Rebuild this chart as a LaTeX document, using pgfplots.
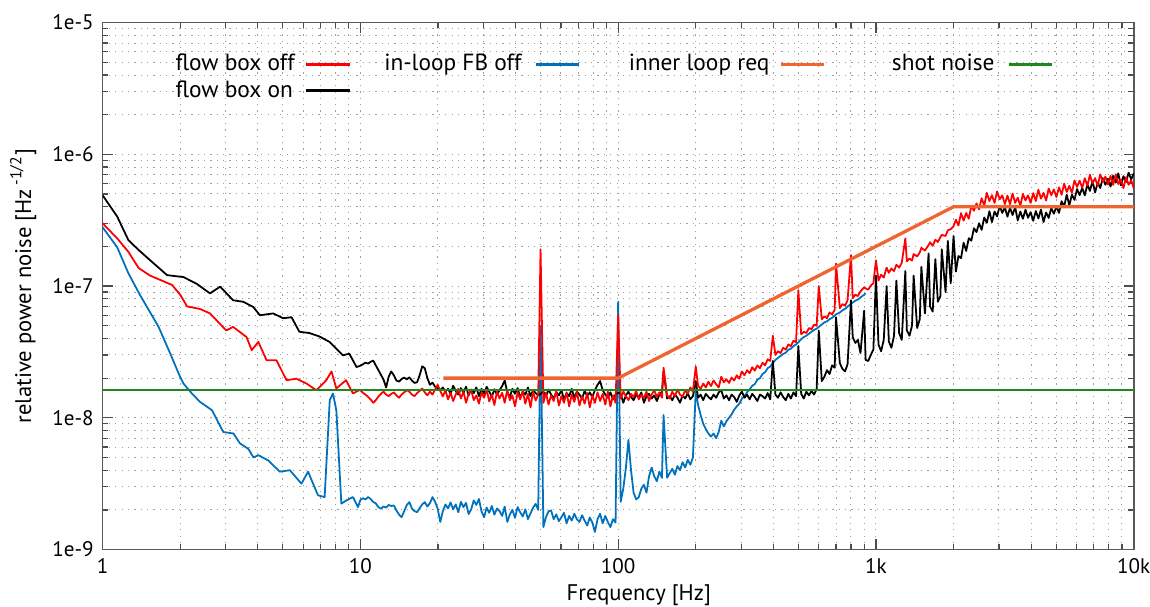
\documentclass[border=0pt]{standalone}
\usepackage{fontspec}
\setmainfont{PT Sans}
\usepackage{pgfplots}
\usepackage{pgfplotstable}
\pgfplotsset{compat=1.18}
\definecolor{cred}{RGB}{255,0,0}
\definecolor{cblue}{RGB}{0,114,189}
\definecolor{corange}{RGB}{240,100,50}
\definecolor{cgreen}{RGB}{30,135,30}

\pgfplotstableread{
f r k b
10.00 1.62e-8 2.48e-8 2.38e-9
10.23 1.55e-8 2.55e-8 2.45e-9
10.47 1.50e-8 2.62e-8 2.40e-9
10.72 1.44e-8 2.58e-8 2.50e-9
10.96 1.38e-8 2.66e-8 2.42e-9
11.22 1.30e-8 2.72e-8 2.30e-9
11.48 1.36e-8 2.50e-8 2.24e-9
11.75 1.45e-8 2.30e-8 2.10e-9
12.02 1.52e-8 2.12e-8 2.04e-9
12.30 1.58e-8 1.95e-8 2.12e-9
12.59 1.50e-8 1.70e-8 2.08e-9
12.88 1.46e-8 2.05e-8 2.18e-9
13.18 1.52e-8 2.25e-8 2.14e-9
13.49 1.56e-8 2.10e-8 2.16e-9
13.80 1.48e-8 1.92e-8 1.98e-9
14.13 1.42e-8 1.88e-8 1.84e-9
14.45 1.50e-8 1.97e-8 1.76e-9
14.79 1.56e-8 2.02e-8 1.95e-9
15.14 1.62e-8 1.96e-8 2.18e-9
15.49 1.58e-8 2.03e-8 2.29e-9
15.85 1.50e-8 1.92e-8 2.05e-9
16.22 1.46e-8 1.84e-8 1.96e-9
16.60 1.54e-8 1.86e-8 1.92e-9
16.98 1.60e-8 2.10e-8 2.06e-9
17.38 1.67e-8 2.46e-8 2.20e-9
17.78 1.56e-8 2.38e-8 2.29e-9
18.20 1.48e-8 2.00e-8 2.12e-9
18.62 1.58e-8 1.78e-8 2.25e-9
19.05 1.50e-8 1.85e-8 2.50e-9
19.50 1.64e-8 1.72e-8 2.30e-9
19.95 1.78e-8 1.68e-8 2.05e-9
20.42 1.60e-8 1.62e-8 1.62e-9
20.89 1.45e-8 1.70e-8 1.95e-9
21.38 1.62e-8 1.58e-8 2.20e-9
21.88 1.38e-8 1.66e-8 2.05e-9
22.39 1.55e-8 1.52e-8 2.28e-9
22.91 1.34e-8 1.75e-8 2.02e-9
23.44 1.50e-8 1.60e-8 2.20e-9
23.99 1.66e-8 1.50e-8 1.92e-9
24.55 1.40e-8 1.68e-8 2.30e-9
25.12 1.58e-8 1.55e-8 2.10e-9
25.70 1.30e-8 1.72e-8 2.26e-9
26.30 1.52e-8 1.48e-8 1.86e-9
26.92 1.62e-8 1.64e-8 2.02e-9
27.54 1.36e-8 1.54e-8 2.36e-9
28.18 1.48e-8 1.70e-8 2.18e-9
28.84 1.28e-8 1.46e-8 2.42e-9
29.51 1.55e-8 1.66e-8 1.95e-9
30.20 1.42e-8 1.52e-8 1.76e-9
30.90 1.64e-8 1.72e-8 2.08e-9
31.62 1.33e-8 1.58e-8 1.90e-9
32.36 1.50e-8 1.44e-8 2.14e-9
33.11 1.25e-8 1.65e-8 1.84e-9
33.88 1.58e-8 1.50e-8 2.05e-9
34.67 1.40e-8 1.62e-8 1.96e-9
35.48 1.55e-8 1.74e-8 1.80e-9
36.31 1.30e-8 1.92e-8 2.12e-9
37.15 1.62e-8 1.56e-8 1.62e-9
38.02 1.36e-8 1.44e-8 1.85e-9
38.90 1.48e-8 1.66e-8 2.00e-9
39.81 1.22e-8 1.52e-8 1.74e-9
40.74 1.56e-8 1.68e-8 2.10e-9
41.69 1.38e-8 1.42e-8 1.92e-9
42.66 1.60e-8 1.58e-8 1.78e-9
43.65 1.28e-8 1.50e-8 2.02e-9
44.67 1.52e-8 1.70e-8 1.70e-9
45.71 1.20e-8 1.46e-8 1.88e-9
46.77 1.58e-8 1.62e-8 2.08e-9
47.86 1.35e-8 1.54e-8 2.22e-9
48.98 1.50e-8 1.48e-8 2.00e-9
50.00 1.90e-7 1.52e-8 5.00e-8
51.29 1.30e-8 1.58e-8 1.48e-9
52.48 1.55e-8 1.45e-8 1.76e-9
53.70 1.26e-8 1.64e-8 1.95e-9
54.95 1.48e-8 1.50e-8 1.98e-9
56.23 1.34e-8 1.40e-8 1.70e-9
57.54 1.60e-8 1.56e-8 1.85e-9
58.88 1.24e-8 1.48e-8 1.64e-9
60.26 1.46e-8 1.62e-8 1.76e-9
61.66 1.30e-8 1.38e-8 1.90e-9
63.10 1.56e-8 1.54e-8 1.58e-9
64.57 1.22e-8 1.46e-8 1.80e-9
66.07 1.50e-8 1.66e-8 1.66e-9
67.61 1.32e-8 1.42e-8 1.87e-9
69.18 1.58e-8 1.58e-8 1.70e-9
70.79 1.24e-8 1.50e-8 1.62e-9
72.44 1.46e-8 1.40e-8 1.82e-9
74.13 1.28e-8 1.60e-8 1.66e-9
75.86 1.54e-8 1.46e-8 1.52e-9
77.62 1.20e-8 1.56e-8 1.75e-9
79.43 1.48e-8 1.44e-8 1.60e-9
81.28 1.30e-8 1.62e-8 1.36e-9
83.18 1.56e-8 1.78e-8 1.70e-9
85.11 1.34e-8 1.90e-8 1.87e-9
87.10 1.52e-8 1.62e-8 1.58e-9
89.13 1.26e-8 1.50e-8 1.80e-9
91.20 1.58e-8 1.42e-8 1.62e-9
93.33 1.22e-8 1.56e-8 1.48e-9
95.50 1.48e-8 1.38e-8 1.70e-9
97.72 1.30e-8 1.50e-8 1.60e-9
100.0 6.00e-8 1.55e-8 7.60e-8
102.3 1.40e-8 1.52e-8 2.30e-9
104.7 1.58e-8 1.30e-8 2.90e-9
107.2 1.46e-8 1.48e-8 4.20e-9
109.6 1.36e-8 1.58e-8 6.80e-9
112.2 1.52e-8 1.44e-8 4.00e-9
114.8 1.44e-8 1.36e-8 2.70e-9
117.5 1.60e-8 1.50e-8 2.40e-9
120.2 1.38e-8 1.42e-8 2.50e-9
123.0 1.50e-8 1.56e-8 2.90e-9
125.9 1.42e-8 1.30e-8 3.10e-9
128.8 1.58e-8 1.46e-8 2.70e-9
131.8 1.34e-8 1.52e-8 3.60e-9
134.9 1.50e-8 1.40e-8 4.20e-9
138.0 1.62e-8 1.48e-8 3.60e-9
141.3 1.44e-8 1.34e-8 3.30e-9
144.5 1.56e-8 1.50e-8 3.90e-9
147.9 1.42e-8 1.58e-8 3.50e-9
150.0 2.40e-8 2.25e-8 1.05e-8
154.9 1.48e-8 1.40e-8 3.50e-9
158.5 1.40e-8 1.46e-8 3.80e-9
162.2 1.58e-8 1.36e-8 4.10e-9
166.0 1.46e-8 1.50e-8 3.70e-9
169.8 1.64e-8 1.42e-8 4.30e-9
173.8 1.50e-8 1.30e-8 4.00e-9
177.8 1.44e-8 1.48e-8 4.60e-9
182.0 1.62e-8 1.40e-8 4.20e-9
186.2 1.52e-8 1.54e-8 4.80e-9
190.5 1.70e-8 1.38e-8 4.40e-9
195.0 1.58e-8 1.46e-8 5.00e-9
200.0 2.45e-8 1.90e-8 1.60e-8
204.2 1.75e-8 1.42e-8 1.25e-8
208.9 1.66e-8 1.50e-8 1.05e-8
213.8 1.82e-8 1.36e-8 9.00e-9
218.8 1.70e-8 1.52e-8 8.20e-9
223.9 1.88e-8 1.44e-8 7.60e-9
229.1 1.74e-8 1.38e-8 7.20e-9
234.4 1.92e-8 1.50e-8 7.60e-9
239.9 1.80e-8 1.42e-8 7.00e-9
245.5 1.70e-8 1.56e-8 7.80e-9
251.2 2.05e-8 1.62e-8 9.50e-9
257.0 1.86e-8 1.40e-8 8.60e-9
263.0 1.96e-8 1.48e-8 9.40e-9
269.2 1.84e-8 1.36e-8 1.00e-8
275.4 2.02e-8 1.50e-8 1.06e-8
281.8 1.92e-8 1.44e-8 1.15e-8
288.4 2.10e-8 1.32e-8 1.22e-8
295.1 1.98e-8 1.48e-8 1.28e-8
302.0 2.25e-8 1.58e-8 1.40e-8
309.0 2.10e-8 1.42e-8 1.46e-8
316.2 2.30e-8 1.50e-8 1.56e-8
323.6 2.18e-8 1.38e-8 1.64e-8
331.1 2.42e-8 1.52e-8 1.75e-8
338.8 2.28e-8 1.44e-8 1.80e-8
346.7 2.50e-8 1.34e-8 1.95e-8
354.8 2.38e-8 1.50e-8 2.00e-8
363.1 2.62e-8 1.46e-8 2.15e-8
371.5 2.50e-8 1.40e-8 2.22e-8
380.2 2.78e-8 1.54e-8 2.38e-8
389.0 2.70e-8 1.38e-8 2.45e-8
398.1 4.20e-8 2.70e-8 2.60e-8
407.4 3.00e-8 1.50e-8 2.75e-8
416.9 3.20e-8 1.42e-8 2.85e-8
426.6 3.10e-8 1.56e-8 2.95e-8
436.5 3.40e-8 1.44e-8 3.05e-8
446.7 3.30e-8 1.36e-8 3.12e-8
457.1 3.60e-8 1.52e-8 3.28e-8
467.7 3.50e-8 1.40e-8 3.35e-8
478.6 3.85e-8 1.56e-8 3.50e-8
489.8 3.75e-8 1.46e-8 3.60e-8
500.0 9.30e-8 3.50e-8 3.75e-8
512.9 4.30e-8 1.52e-8 3.95e-8
524.8 4.50e-8 1.40e-8 4.10e-8
537.0 4.40e-8 1.58e-8 4.20e-8
549.5 4.80e-8 1.48e-8 4.35e-8
562.3 4.70e-8 1.60e-8 4.50e-8
575.4 5.10e-8 1.50e-8 4.65e-8
588.8 5.00e-8 1.66e-8 4.75e-8
600.0 1.00e-7 4.60e-8 4.90e-8
616.6 5.60e-8 1.90e-8 5.10e-8
631.0 5.90e-8 2.05e-8 5.30e-8
645.7 5.70e-8 2.30e-8 5.40e-8
660.7 6.30e-8 2.15e-8 5.60e-8
676.1 6.10e-8 2.50e-8 5.75e-8
691.8 6.60e-8 2.40e-8 5.95e-8
700.0 1.48e-7 5.80e-8 6.10e-8
724.4 6.80e-8 2.60e-8 6.30e-8
741.3 7.30e-8 2.35e-8 6.55e-8
758.6 7.10e-8 2.25e-8 6.70e-8
776.2 7.80e-8 2.55e-8 7.00e-8
800.0 1.72e-7 7.80e-8 7.30e-8
812.8 8.10e-8 4.10e-8 7.50e-8
831.8 8.60e-8 3.70e-8 7.75e-8
851.1 8.40e-8 3.90e-8 7.90e-8
871.0 9.10e-8 3.10e-8 8.20e-8
900.0 9.80e-8 6.50e-8 8.60e-8
912.0 9.60e-8 2.75e-8 8.80e-8
933.3 9.40e-8 2.70e-8 nan
955.0 1.01e-7 3.00e-8 nan
977.2 1.05e-7 3.30e-8 nan
1000 1.57e-7 1.20e-7 nan
1023 1.10e-7 3.60e-8 nan
1047 1.22e-7 3.20e-8 nan
1072 1.16e-7 3.90e-8 nan
1100 1.38e-7 1.00e-7 nan
1122 1.26e-7 3.80e-8 nan
1148 1.36e-7 3.40e-8 nan
1175 1.30e-7 4.20e-8 nan
1200 1.45e-7 1.10e-7 nan
1230 1.38e-7 4.40e-8 nan
1259 1.50e-7 3.90e-8 nan
1300 2.30e-7 1.30e-7 nan
1318 1.54e-7 4.60e-8 nan
1349 1.62e-7 4.20e-8 nan
1380 1.56e-7 5.00e-8 nan
1400 1.75e-7 1.20e-7 nan
1445 1.68e-7 4.80e-8 nan
1479 1.80e-7 5.60e-8 nan
1500 1.95e-7 1.40e-7 nan
1549 1.86e-7 6.20e-8 nan
1600 2.05e-7 1.77e-7 nan
1622 2.15e-7 7.00e-8 nan
1660 2.02e-7 6.40e-8 nan
1700 2.25e-7 1.60e-7 nan
1738 2.16e-7 7.60e-8 nan
1778 2.35e-7 8.40e-8 nan
1800 2.45e-7 1.90e-7 nan
1862 2.40e-7 9.00e-8 nan
1900 2.65e-7 2.20e-7 nan
1950 2.70e-7 1.05e-7 nan
2000 2.85e-7 2.40e-7 nan
2042 3.19e-7 1.29e-7 nan
2089 2.88e-7 1.69e-7 nan
2138 3.58e-7 1.63e-7 nan
2188 3.14e-7 2.13e-7 nan
2239 3.59e-7 1.85e-7 nan
2291 3.24e-7 2.31e-7 nan
2344 4.07e-7 2.21e-7 nan
2399 3.73e-7 2.75e-7 nan
2455 4.24e-7 2.57e-7 nan
2512 3.82e-7 3.00e-7 nan
2570 4.64e-7 2.67e-7 nan
2630 4.09e-7 3.32e-7 nan
2692 5.10e-7 3.02e-7 nan
2754 4.42e-7 3.70e-7 nan
2818 4.89e-7 3.06e-7 nan
2884 4.28e-7 3.68e-7 nan
2951 5.23e-7 3.38e-7 nan
3020 4.56e-7 4.07e-7 nan
3090 4.88e-7 3.59e-7 nan
3162 4.19e-7 3.96e-7 nan
3236 4.86e-7 3.36e-7 nan
3311 4.19e-7 3.92e-7 nan
3388 5.04e-7 3.46e-7 nan
3467 4.28e-7 3.98e-7 nan
3548 4.68e-7 3.15e-7 nan
3631 4.07e-7 3.68e-7 nan
3715 5.01e-7 3.24e-7 nan
3802 4.46e-7 3.80e-7 nan
3890 4.88e-7 3.30e-7 nan
3981 4.28e-7 3.64e-7 nan
4074 5.08e-7 3.13e-7 nan
4169 4.42e-7 3.71e-7 nan
4266 5.38e-7 3.26e-7 nan
4365 4.61e-7 3.81e-7 nan
4467 5.10e-7 3.06e-7 nan
4571 4.46e-7 3.62e-7 nan
4677 5.50e-7 3.29e-7 nan
4786 4.90e-7 3.91e-7 nan
4898 5.41e-7 3.54e-7 nan
5012 4.74e-7 4.01e-7 nan
5129 5.62e-7 3.59e-7 nan
5248 4.93e-7 4.41e-7 nan
5370 5.99e-7 4.03e-7 nan
5495 5.18e-7 4.93e-7 nan
5623 5.77e-7 4.10e-7 nan
5754 5.09e-7 4.94e-7 nan
5888 6.33e-7 4.51e-7 nan
6026 5.67e-7 5.45e-7 nan
6166 6.31e-7 4.90e-7 nan
6310 5.57e-7 5.56e-7 nan
6457 6.59e-7 4.88e-7 nan
6607 5.77e-7 5.89e-7 nan
6761 7.00e-7 5.28e-7 nan
6918 5.99e-7 6.27e-7 nan
7079 6.60e-7 5.13e-7 nan
7244 5.76e-7 6.09e-7 nan
7413 7.04e-7 5.55e-7 nan
7586 6.21e-7 6.60e-7 nan
7762 6.78e-7 5.87e-7 nan
7943 5.89e-7 6.53e-7 nan
8128 6.86e-7 5.70e-7 nan
8318 5.86e-7 6.87e-7 nan
8511 7.06e-7 6.10e-7 nan
8710 5.94e-7 7.17e-7 nan
8913 6.45e-7 5.81e-7 nan
9120 5.54e-7 6.83e-7 nan
9333 6.71e-7 6.16e-7 nan
9550 5.87e-7 7.26e-7 nan
9772 6.36e-7 6.45e-7 nan
10000 5.52e-7 7.17e-7 nan
}\noise

\begin{document}
\begin{tikzpicture}
\begin{axis}[
  name=ax,
  scale only axis,
  width=406.3pt, height=207.6pt,
  xmode=log, ymode=log,
  xmin=1, xmax=10000, ymin=1e-9, ymax=1e-5,
  xtick={1,10,100,1000,10000},
  xticklabels={1,10,100,1k,10k},
  ytick={1e-9,1e-8,1e-7,1e-6,1e-5},
  yticklabels={1e-9,1e-8,1e-7,1e-6,1e-5},
  minor xtick={2,3,4,5,6,7,8,9,20,30,40,50,60,70,80,90,200,300,400,500,600,700,800,900,2000,3000,4000,5000,6000,7000,8000,9000},
  minor ytick={2e-9,3e-9,4e-9,5e-9,6e-9,7e-9,8e-9,9e-9,2e-8,3e-8,4e-8,5e-8,6e-8,7e-8,8e-8,9e-8,2e-7,3e-7,4e-7,5e-7,6e-7,7e-7,8e-7,9e-7,2e-6,3e-6,4e-6,5e-6,6e-6,7e-6,8e-6,9e-6},
  grid=both,
  major grid style={gray!75, dash pattern=on 0.5pt off 2pt},
  minor grid style={gray!75, dash pattern=on 0.5pt off 2pt},
  axis line style={black!65, line width=0.7pt},
  tick style={black!70, line width=0.5pt},
  major tick length=4pt, minor tick length=2.3pt,
  tick label style={font=\fontsize{8.3}{10}\selectfont},
  xlabel={Frequency [Hz]},
  ylabel={relative power noise [Hz\,\textsuperscript{-1/2}]},
  label style={font=\fontsize{8.9}{11}\selectfont},
  xlabel style={at={(axis description cs:0.52,-0.086)}, anchor=center},
  ylabel style={at={(axis description cs:-0.077,0.5)}, anchor=center},
  legend plot pos=right,
  legend columns=4,
  legend cell align=left,
  legend style={draw=none, fill=none, font=\fontsize{9.2}{11}\selectfont,
    at={(axis description cs:0.058,0.961)}, anchor=north west,
    row sep=-1.5pt,
    /tikz/every even column/.append style={column sep=11pt}},
  filter discard warning=false,
  every axis plot/.append style={line join=round},
]
\addlegendimage{cred, line width=1.2pt}
\addlegendentry{flow box off\hspace*{2pt}}
\addlegendimage{cblue, line width=1.2pt}
\addlegendentry{in-loop FB off\hspace*{3pt}}
\addlegendimage{corange, line width=1.2pt}
\addlegendentry{\hspace*{6pt}inner loop req\hspace*{2pt}}
\addlegendimage{cgreen, line width=1.2pt}
\addlegendentry{\hspace*{13pt}shot noise\hspace*{3pt}}
\addlegendimage{black, line width=1.2pt}
\addlegendentry{flow box on\hspace*{2pt}}

% in-loop FB off (blue)
\addplot[cblue, line width=0.7pt, forget plot] coordinates {
(1.00,2.8e-7) (1.14,1.97e-7) (1.26,1.25e-7) (1.40,8.5e-8) (1.65,4.9e-8) (1.83,3.08e-8)
(2.00,2.04e-8) (2.06,1.82e-8) (2.22,1.53e-8) (2.39,1.32e-8) (2.66,1.14e-8) (2.94,7.8e-9)
(3.22,7.6e-9) (3.41,6.4e-9) (3.68,5.8e-9) (3.85,5.0e-9) (4.02,5.2e-9) (4.39,4.75e-9)
(4.87,3.9e-9) (5.33,4.0e-9) (5.91,3.16e-9) (6.27,3.9e-9) (6.85,2.58e-9) (7.27,2.5e-9)
(7.61,1.36e-8) (7.83,1.53e-8) (8.07,1.14e-8) (8.44,2.23e-9) (8.83,2.36e-9) (9.36,2.5e-9)
(9.79,2.1e-9) (10.0,2.38e-9)};
\addplot[cblue, line width=0.7pt, forget plot] table[x=f, y=b] {\noise};

% flow box on (black)
\addplot[black, line width=0.7pt, forget plot] coordinates {
(1.00,4.9e-7) (1.14,3.37e-7) (1.26,2.23e-7) (1.38,1.88e-7) (1.53,1.57e-7) (1.78,1.21e-7)
(2.06,1.17e-7) (2.32,1.04e-7) (2.61,8.8e-8) (2.86,9.9e-8) (3.21,7.8e-8) (3.51,7.6e-8)
(3.84,6.95e-8) (4.08,6.0e-8) (4.59,6.2e-8) (5.02,5.7e-8) (5.41,5.8e-8) (5.80,4.5e-8)
(6.34,4.4e-8) (6.93,4.15e-8) (7.59,3.77e-8) (8.56,2.98e-8) (9.06,3.07e-8) (9.66,2.43e-8)
(10.0,2.48e-8)};
\addplot[black, line width=0.7pt, forget plot] table[x=f, y=k] {\noise};

% flow box off (red)
\addplot[cred, line width=0.7pt, forget plot] coordinates {
(1.00,3.0e-7) (1.14,2.3e-7) (1.26,1.82e-7) (1.38,1.37e-7) (1.53,1.2e-7) (1.86,1.02e-7)
(2.00,8.6e-8) (2.13,7.0e-8) (2.39,6.7e-8) (2.61,6.2e-8) (3.02,4.6e-8) (3.21,4.9e-8)
(3.62,4.1e-8) (3.79,3.26e-8) (4.02,3.77e-8) (4.33,2.73e-8) (4.73,2.73e-8) (5.17,1.93e-8)
(5.65,1.98e-8) (6.18,1.82e-8) (6.75,1.62e-8) (7.38,1.93e-8) (7.73,2.25e-8) (8.07,1.67e-8)
(8.80,1.93e-8) (9.36,1.53e-8) (9.90,1.62e-8) (10.0,1.62e-8)};
\addplot[cred, line width=0.7pt, forget plot] table[x=f, y=r] {\noise};

% shot noise
\addplot[cgreen, line width=0.8pt, forget plot] coordinates {(1,1.62e-8) (10000,1.62e-8)};
% inner loop requirement
\addplot[corange, line width=1.3pt, forget plot] coordinates {(21,2e-8) (100,2e-8) (2000,4e-7) (10000,4e-7)};
\end{axis}
\pgfresetboundingbox
\path[use as bounding box] ([shift={(-40.4pt,-22.3pt)}]ax.south west) rectangle ([shift={(6.4pt,8.9pt)}]ax.north east);
\end{tikzpicture}
\end{document}
